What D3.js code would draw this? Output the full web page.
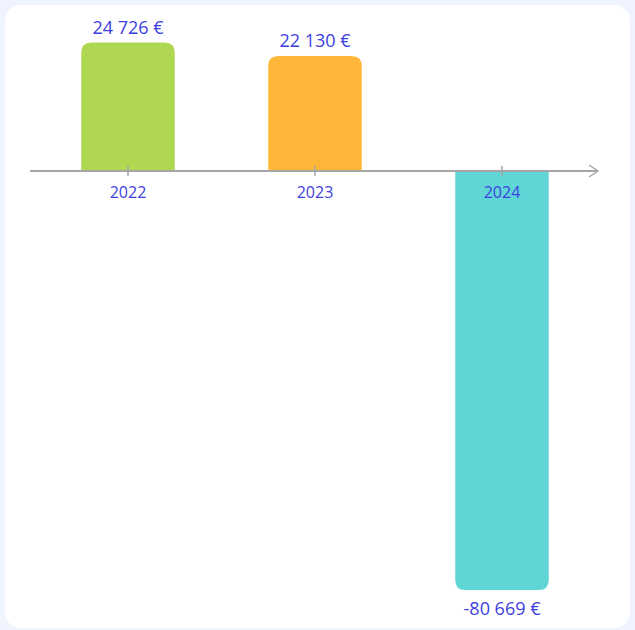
<!DOCTYPE html>
<html><head><meta charset="utf-8">
<script src="https://cdn.jsdelivr.net/npm/d3@7"></script>
<style>html,body{margin:0;padding:0;background:#f0f4fe;}svg{display:block;}</style>
</head><body>
<svg id="c" width="635" height="630"></svg>
<script>
const categories = ["2022", "2023", "2024"];
const values = [24726, 22130, -80669];
const colors = ["#b0d751", "#ffb739", "#60d5d5"];
const valueLabels = ["24 726 €", "22 130 €", "-80 669 €"];

const svg = d3.select("#c");
svg.append("rect").attr("x",5).attr("y",5).attr("width",625).attr("height",623).attr("rx",16).attr("fill","#fff");

const x = d3.scaleBand().domain(categories).range([34.5, 595.5]).paddingInner(0.5).paddingOuter(0.25);
const y = d3.scaleLinear().domain([-80669, 0]).range([590, 171]);
const font = "'Open Sans', 'Noto Sans', sans-serif";
const textColor = "#3d3fe2";
const r = 10;

function barPath(xl, w, y0, y1) {
  if (y1 < y0) {
    return `M${xl},${y0} L${xl},${y1+r} Q${xl},${y1} ${xl+r},${y1} L${xl+w-r},${y1} Q${xl+w},${y1} ${xl+w},${y1+r} L${xl+w},${y0} Z`;
  } else {
    return `M${xl},${y0} L${xl},${y1-r} Q${xl},${y1} ${xl+r},${y1} L${xl+w-r},${y1} Q${xl+w},${y1} ${xl+w},${y1-r} L${xl+w},${y0} Z`;
  }
}

const data = categories.map((c,i)=>({c, v: values[i], col: colors[i], lab: valueLabels[i]}));

svg.append("g").selectAll("path").data(data).join("path")
  .attr("d", d => barPath(x(d.c), x.bandwidth(), y(0), y(d.v)))
  .attr("fill", d => d.col);

const ax = svg.append("g");
ax.append("line").attr("x1",30).attr("x2",598).attr("y1",y(0)).attr("y2",y(0))
  .attr("stroke","#a6a6a6").attr("stroke-width",2);
ax.append("path").attr("d",`M589,${y(0)-6} L598,${y(0)} L589,${y(0)+6}`)
  .attr("fill","none").attr("stroke","#a6a6a6").attr("stroke-width",1.5);

const xAxis = d3.axisBottom(x).tickSize(5).tickPadding(11);
const g = svg.append("g").attr("transform",`translate(0,${y(0)})`).call(xAxis);
g.select(".domain").remove();
g.selectAll(".tick line").attr("stroke","#a6a6a6").attr("stroke-width",1.5).attr("y1",-5);
g.selectAll(".tick text").attr("fill",textColor).attr("font-family",font).attr("font-size",16);

svg.append("g").selectAll("text").data(data).join("text")
  .attr("x", d => x(d.c) + x.bandwidth()/2)
  .attr("y", d => d.v >= 0 ? y(d.v) - 9 : y(d.v) + 25)
  .attr("text-anchor","middle")
  .attr("fill",textColor).attr("font-family",font).attr("font-size",18)
  .text(d => d.lab);
</script>
</body></html>
